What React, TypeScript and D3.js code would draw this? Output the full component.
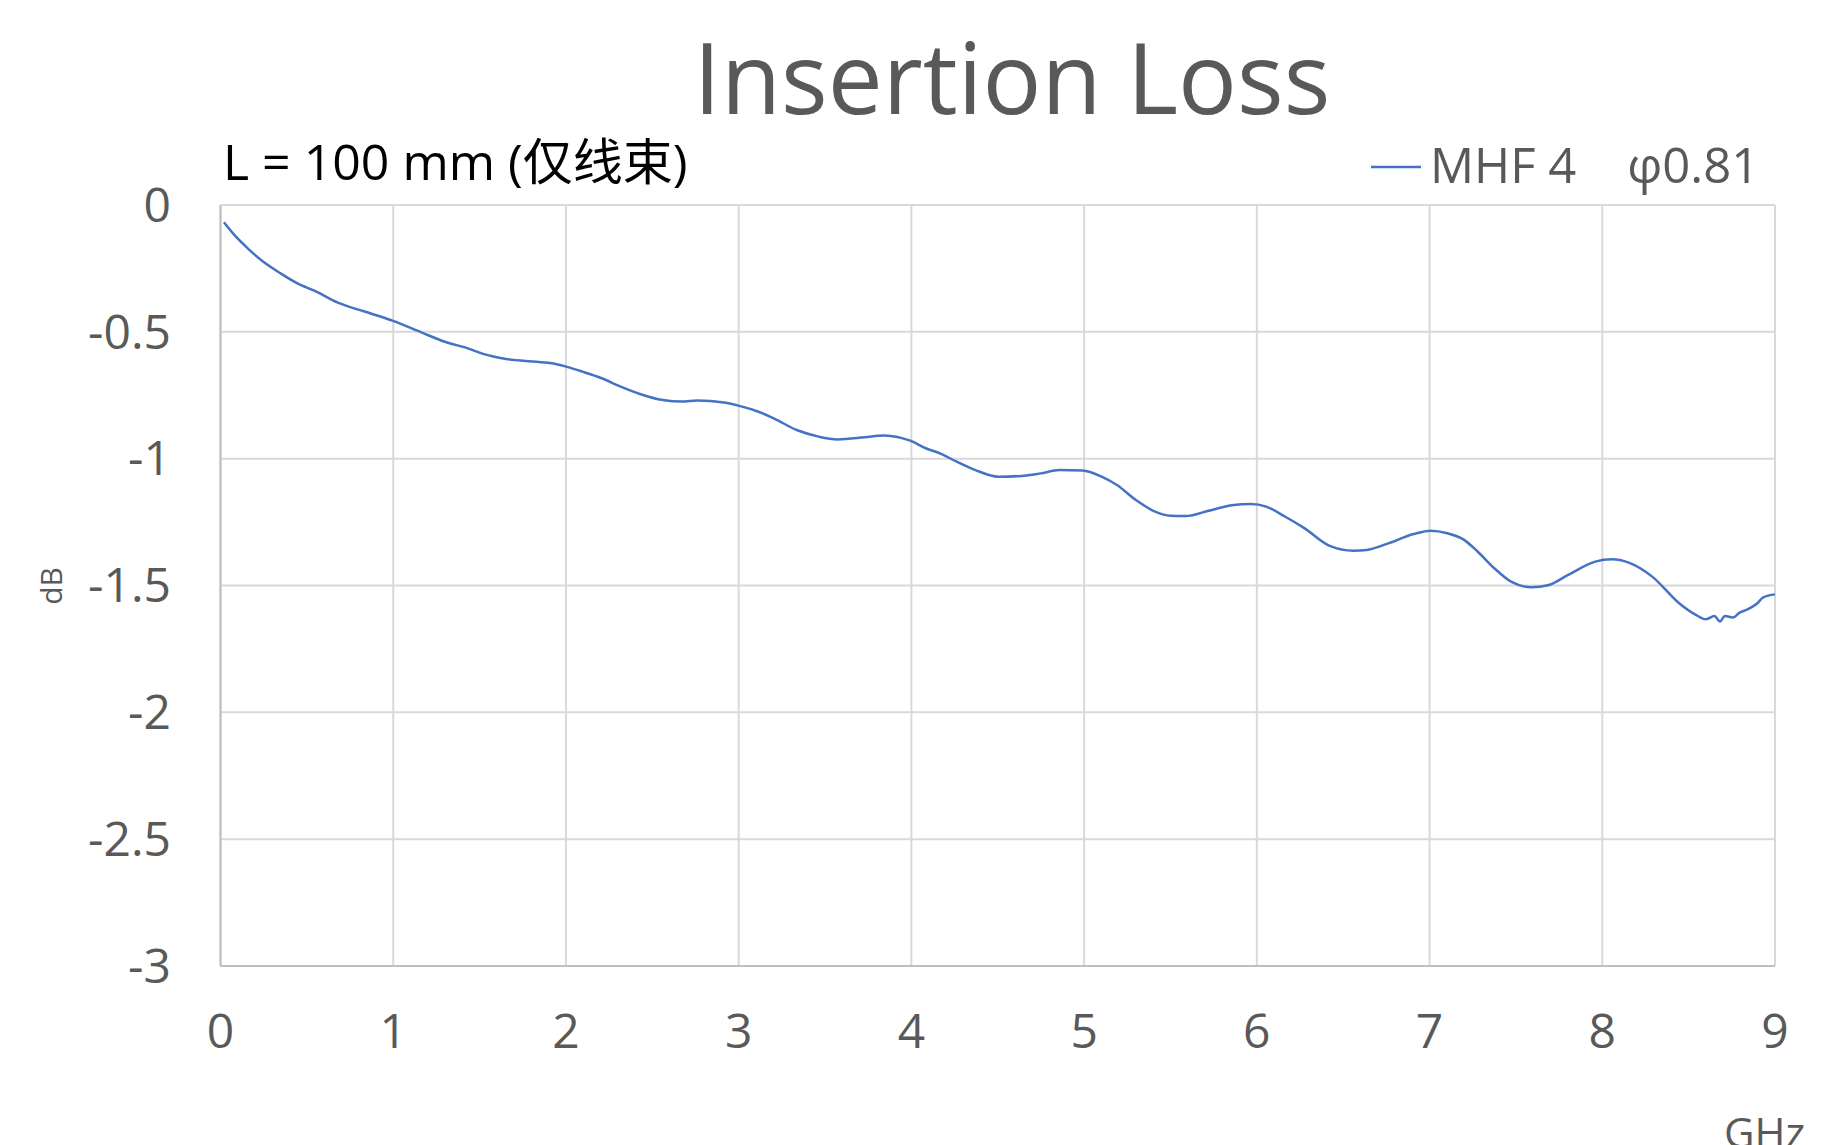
import React from "react";
import * as d3 from "d3";

const freqGHz = [0.02,0.08,0.147,0.246,0.347,0.446,0.546,0.679,0.834,1.0,1.166,1.299,1.432,1.52,1.653,1.83,1.92,2.0,2.096,2.207,2.317,2.428,2.561,2.672,2.76,2.915,3.004,3.115,3.203,3.336,3.463,3.573,3.729,3.84,3.95,3.994,4.083,4.172,4.26,4.371,4.504,4.637,4.748,4.858,4.991,5.101,5.19,5.3,5.411,5.5,5.589,5.722,5.855,5.965,6.054,6.165,6.275,6.422,6.558,6.636,6.753,6.909,7.006,7.103,7.2,7.278,7.375,7.472,7.589,7.686,7.803,7.959,8.056,8.153,8.289,8.445,8.542,8.601,8.649,8.682,8.71,8.757,8.795,8.834,8.893,8.932,9.0];
const lossDB = [-0.068,-0.118,-0.164,-0.223,-0.269,-0.309,-0.339,-0.385,-0.42,-0.457,-0.503,-0.539,-0.565,-0.587,-0.607,-0.618,-0.624,-0.637,-0.657,-0.683,-0.716,-0.745,-0.769,-0.775,-0.771,-0.779,-0.792,-0.815,-0.841,-0.887,-0.913,-0.924,-0.916,-0.909,-0.92,-0.929,-0.959,-0.981,-1.011,-1.045,-1.071,-1.068,-1.058,-1.045,-1.047,-1.071,-1.104,-1.163,-1.209,-1.225,-1.226,-1.205,-1.184,-1.179,-1.189,-1.229,-1.274,-1.344,-1.363,-1.36,-1.336,-1.297,-1.284,-1.294,-1.32,-1.366,-1.432,-1.485,-1.507,-1.499,-1.458,-1.406,-1.397,-1.41,-1.465,-1.57,-1.616,-1.633,-1.62,-1.642,-1.62,-1.626,-1.607,-1.596,-1.573,-1.547,-1.535];
const xTicks = [0,1,2,3,4,5,6,7,8,9];
const yTicks = [0,-0.5,-1,-1.5,-2,-2.5,-3];
const title = "Insertion Loss";
const subtitle = "L = 100 mm (仅线束)";
const seriesName = "MHF 4    φ0.81";

export default function App() {
  const W = 1827, H = 1145;
  const left = 220.5, right = 1775, top = 205, bottom = 966;
  const x = d3.scaleLinear().domain([0, 9]).range([left, right]);
  const y = d3.scaleLinear().domain([-3, 0]).range([bottom, top]);
  const pts = freqGHz.map((f, i) => [f, lossDB[i]] as [number, number]);
  const line = d3.line<[number, number]>().x(d => x(d[0])).y(d => y(d[1])).curve(d3.curveMonotoneX);
  const font = "'Open Sans', 'Noto Sans', 'Noto Sans CJK SC', sans-serif";
  const grey = "#595959";
  return (
    <svg width={W} height={H} style={{ position: "absolute", left: 0, top: 0, background: "#fff" }} fontFamily={font}>
      <rect x={0} y={0} width={W} height={H} fill="#fff" />
      {xTicks.map(t => (
        <line key={"gx" + t} x1={x(t)} x2={x(t)} y1={top} y2={bottom} stroke="#d9d9d9" strokeWidth={2} />
      ))}
      {yTicks.map(t => (
        <line key={"gy" + t} x1={left} x2={right} y1={y(t)} y2={y(t)} stroke="#d9d9d9" strokeWidth={2} />
      ))}
      <line x1={left} x2={left} y1={top} y2={bottom} stroke="#bfbfbf" strokeWidth={2} />
      <line x1={left} x2={right} y1={bottom} y2={bottom} stroke="#bfbfbf" strokeWidth={2} />
      <path d={line(pts) || ""} fill="none" stroke="#4472C4" strokeWidth={2.5} />
      {yTicks.map(t => (
        <text key={"ty" + t} x={171} y={y(t)} dy="0.35em" textAnchor="end" fontSize={48} fill={grey}>{t}</text>
      ))}
      {xTicks.map(t => (
        <text key={"tx" + t} x={x(t)} y={1031} dy="0.35em" textAnchor="middle" fontSize={48} fill={grey}>{t}</text>
      ))}
      <text x={1012} y={114} textAnchor="middle" fontSize={98} fill={grey}>{title}</text>
      <text x={223} y={180} fontSize={50} fill="#000">{subtitle}</text>
      <line x1={1371} x2={1421} y1={167} y2={167} stroke="#4472C4" strokeWidth={2.5} />
      <text x={1430} y={183} fontSize={49} fill={grey} style={{ whiteSpace: "pre" }}>{seriesName}</text>
      <text transform={`translate(62,586) rotate(-90)`} textAnchor="middle" fontSize={30} fill={grey}>dB</text>
      <text x={1724} y={1148} fontSize={42} fill={grey}>GHz</text>
    </svg>
  );
}
